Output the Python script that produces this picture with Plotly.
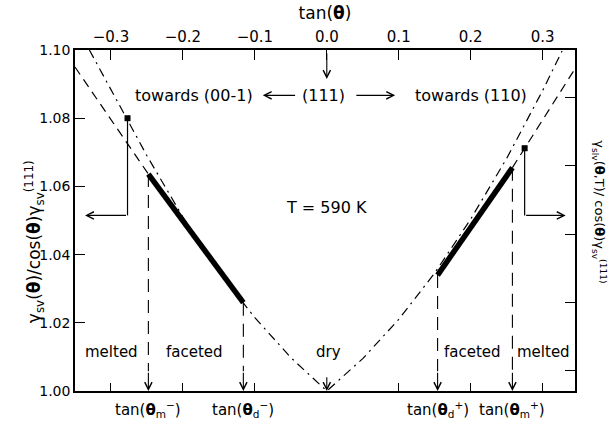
import plotly.graph_objects as go

# tan(theta) axis and reduced dry surface free energy gamma_sv(theta)/cos(theta)gamma_sv(111)
tan_dry = [-0.33, -0.30, -0.25, -0.20, -0.15, -0.10, -0.05, 0.0,
           0.05, 0.10, 0.15, 0.20, 0.25, 0.30, 0.327]
gamma_dry = [1.100, 1.0885, 1.069, 1.051, 1.035, 1.0215, 1.0098, 1.000,
             1.0095, 1.021, 1.0346, 1.0504, 1.0682, 1.0881, 1.0997]

# melted (solid-liquid-vapour) branches
tan_melt_left = [-0.35, -0.248]
gamma_melt_left = [1.095, 1.0636]
tan_melt_right = [0.258, 0.345]
gamma_melt_right = [1.0655, 1.0945]

# faceted coexistence segments (between theta_m and theta_d)
tan_facet_left = [-0.248, -0.116]
gamma_facet_left = [1.0636, 1.0259]
tan_facet_right = [0.154, 0.258]
gamma_facet_right = [1.034, 1.0655]

# transition angles and the labels drawn under them
tan_transitions = [-0.248, -0.116, 0.154, 0.258]
gamma_transitions = [1.0636, 1.0259, 1.034, 1.0655]
transition_labels = [
    "tan(<b>θ</b><sub>m</sub><sup>−</sup>)",
    "tan(<b>θ</b><sub>d</sub><sup>−</sup>)",
    "tan(<b>θ</b><sub>d</sub><sup>+</sup>)",
    "tan(<b>θ</b><sub>m</sub><sup>+</sup>)",
]

# curve markers pointing to the axis each curve belongs to
tan_markers = [-0.277, 0.275]
gamma_markers = [1.080, 1.0712]
marker_bracket_level = 1.0515
marker_arrow_tips = [-0.336, 0.332]

# region labels
region_names = ["melted", "faceted", "dry", "faceted", "melted"]
region_tan = [-0.299, -0.184, 0.003, 0.202, 0.301]
region_level = 1.0113

top_ticks = [-0.3, -0.2, -0.1, 0.0, 0.1, 0.2, 0.3]
bottom_ticks = [-0.3, -0.2, -0.1, 0.1, 0.2, 0.3]
left_ticks = [1.00, 1.02, 1.04, 1.06, 1.08, 1.10]
right_ticks = [1.006, 1.026, 1.046, 1.066, 1.086]

FONT = "DejaVu Sans"
INK = "black"

fig = go.Figure()

fig.add_trace(go.Scatter(x=tan_dry, y=gamma_dry, mode="lines",
                         line=dict(color=INK, width=1.2, dash="9px,5px,2px,5px")))
for tx, gy in ((tan_melt_left, gamma_melt_left), (tan_melt_right, gamma_melt_right)):
    fig.add_trace(go.Scatter(x=tx, y=gy, mode="lines",
                             line=dict(color=INK, width=1.2, dash="9px,6px")))
for tx, gy in ((tan_facet_left, gamma_facet_left), (tan_facet_right, gamma_facet_right)):
    fig.add_trace(go.Scatter(x=tx, y=gy, mode="lines",
                             line=dict(color=INK, width=5.5)))

# vertical dashed guides from each transition point down to the axis arrows
arrow_top = 1.0058
for t, g in zip(tan_transitions, gamma_transitions):
    fig.add_trace(go.Scatter(x=[t, t], y=[g, arrow_top], mode="lines",
                             line=dict(color=INK, width=1.1, dash="13px,8px")))

# marker dots with their bracket lines
fig.add_trace(go.Scatter(x=tan_markers, y=gamma_markers, mode="markers",
                         marker=dict(symbol="square", size=6, color=INK)))
for t, g in zip(tan_markers, gamma_markers):
    fig.add_trace(go.Scatter(x=[t, t], y=[g, marker_bracket_level], mode="lines",
                             line=dict(color=INK, width=1.2)))

# invisible trace to carry the top/right axes
fig.add_trace(go.Scatter(x=[0], y=[1.05], xaxis="x2", yaxis="y2", mode="markers",
                         marker=dict(opacity=0), hoverinfo="skip"))

def arrow(x, y, ax, ay):
    fig.add_annotation(x=x, y=y, ax=ax, ay=ay, xref="x", yref="y", axref="x", ayref="y",
                       text="", showarrow=True, arrowhead=5, arrowsize=1.3,
                       arrowwidth=1.1, arrowcolor=INK)

for t in tan_transitions:
    arrow(t, 1.0, t, arrow_top)
arrow(0.0, 1.0, 0.0, 1.0045)
arrow(0.0, 1.0915, 0.0, 1.0995)
arrow(-0.089, 1.0867, -0.042, 1.0867)
arrow(0.095, 1.0867, 0.039, 1.0867)
for t, tip in zip(tan_markers, marker_arrow_tips):
    arrow(tip, marker_bracket_level, t, marker_bracket_level)

def label(text, x, y, size=15, **kw):
    fig.add_annotation(x=x, y=y, text=text, showarrow=False,
                       font=dict(family=FONT, size=size, color=INK), **kw)

label("towards (00-1)", -0.185, 1.0867, size=16)
label("(111)", -0.004, 1.0867, size=16)
label("towards (110)", 0.200, 1.0867, size=16)
label("T = 590 K", 0.0, 1.0539, size=16)

for name, t in zip(region_names, region_tan):
    label(name, t, region_level)

for t, txt in zip(tan_transitions, transition_labels):
    label(txt, t, -0.055, size=15, yref="paper", yanchor="middle")

label("γ<sub>sv</sub>(<b>θ</b>)/cos(<b>θ</b>)γ<sub>sv</sub><sup>(111)</sup>",
      -0.081, 0.438, size=17, xref="paper", yref="paper", textangle=-90,
      xanchor="center", yanchor="middle")
label("γ<sub>slv</sub>(<b>θ</b>,T)/ cos(<b>θ</b>)γ<sub>sv</sub><sup>(111)</sup>",
      1.048, 0.527, size=13, xref="paper", yref="paper", textangle=90,
      xanchor="center", yanchor="middle")

axis_common = dict(showline=True, linecolor=INK, linewidth=1.5, showgrid=False,
                   zeroline=False, ticks="inside", tickcolor=INK, tickwidth=1.2)

fig.update_layout(
    width=613, height=429,
    margin=dict(l=75, r=38, t=46, b=38),
    paper_bgcolor="white", plot_bgcolor="white",
    showlegend=False,
    font=dict(family=FONT, size=14, color=INK),
    xaxis=dict(range=[-0.35, 0.345], tickvals=bottom_ticks, showticklabels=False,
               ticklen=8, **axis_common),
    xaxis2=dict(range=[-0.35, 0.345], overlaying="x", side="top", tickvals=top_ticks,
                tickformat=".1f", ticklen=10, tickfont=dict(size=15),
                title=dict(text="tan(<b>θ</b>)", font=dict(size=17), standoff=4),
                **axis_common),
    yaxis=dict(range=[1.0, 1.1], tickvals=left_ticks, tickformat=".2f", ticklen=10,
               tickfont=dict(size=14), **axis_common),
    yaxis2=dict(range=[1.0, 1.1], overlaying="y", side="right", tickvals=right_ticks,
                showticklabels=False, ticklen=10, **axis_common),
)

fig.write_html("out.html")
